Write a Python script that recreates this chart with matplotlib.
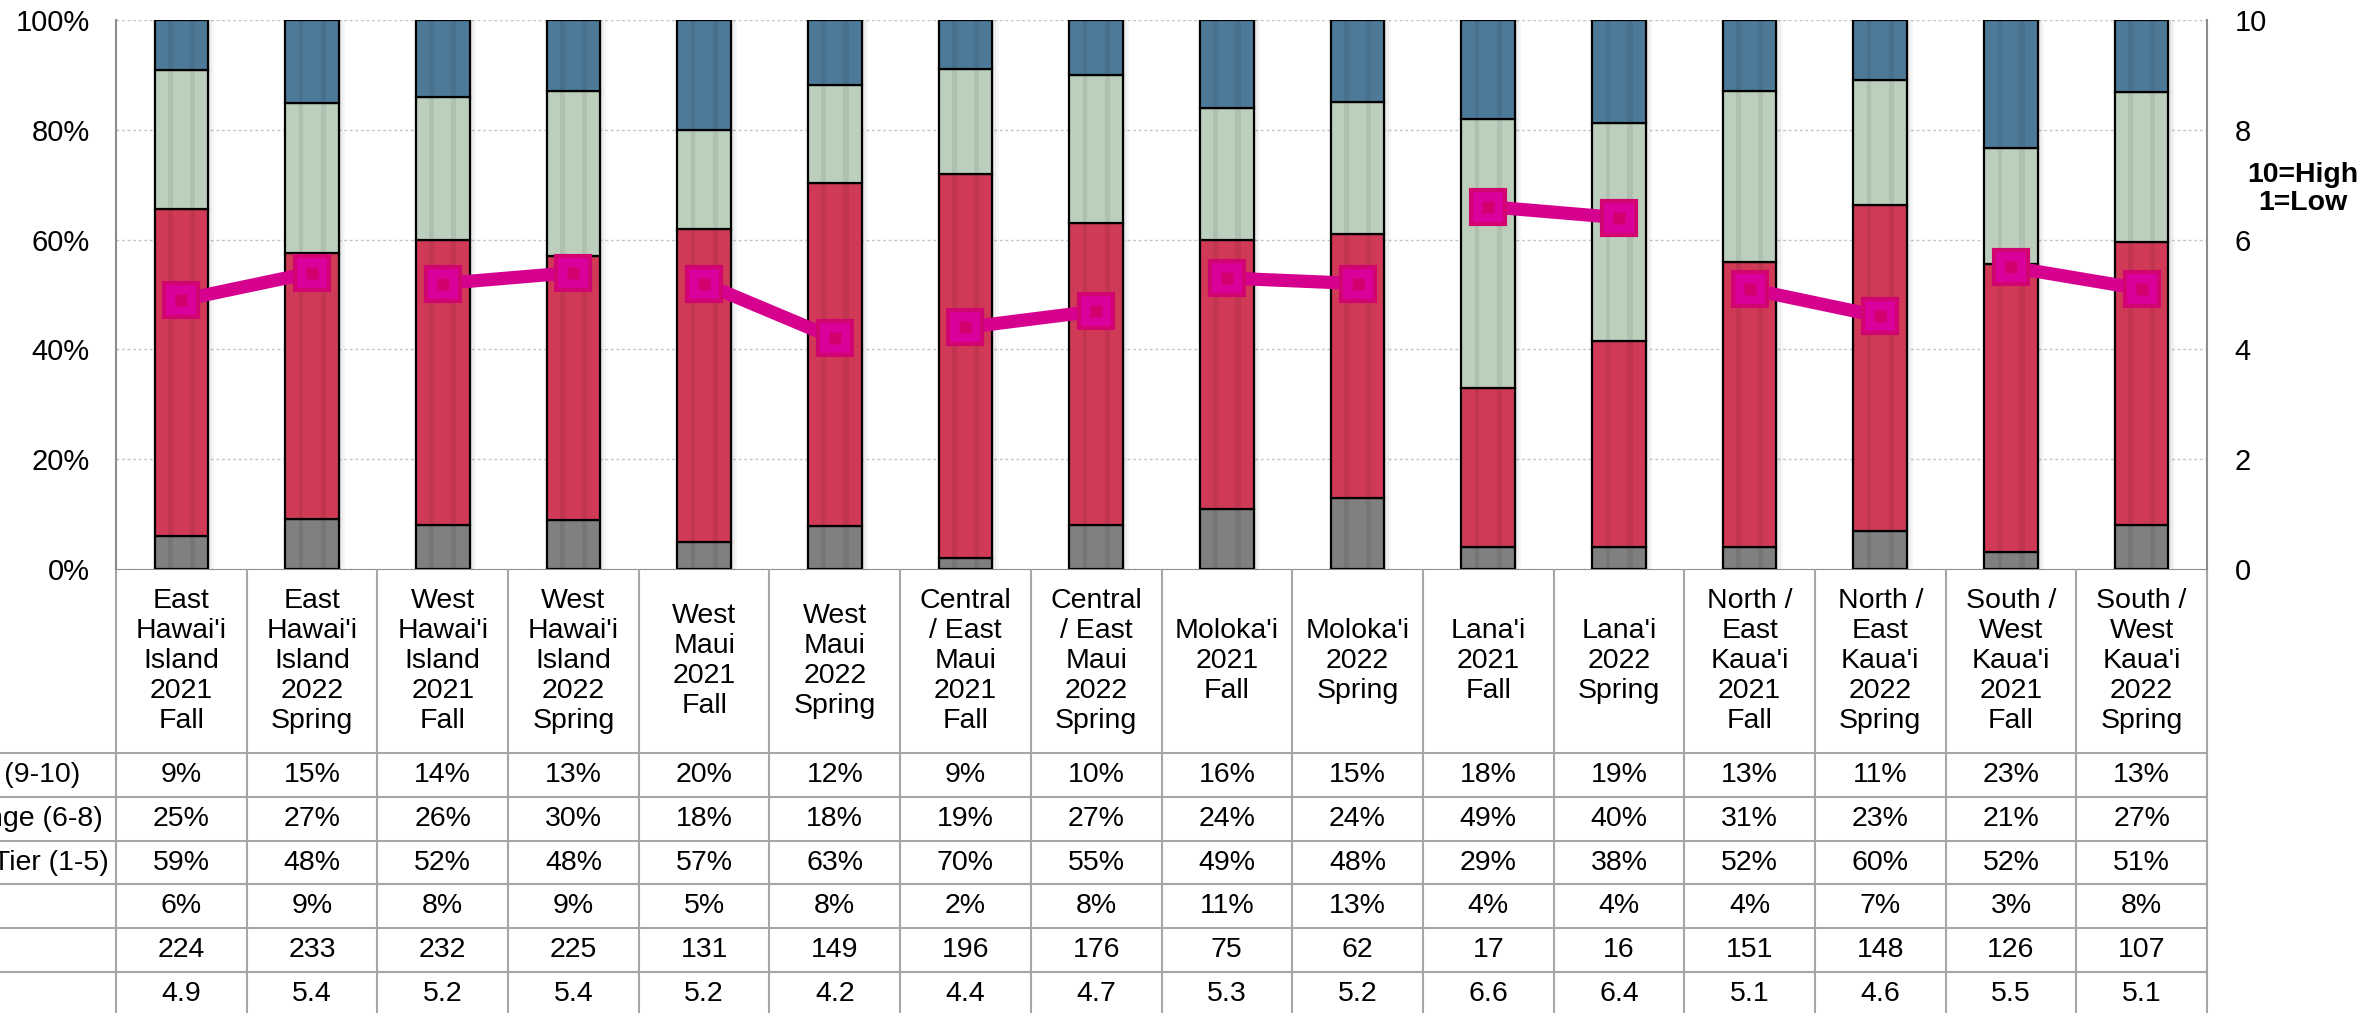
import matplotlib
matplotlib.use("Agg")
import matplotlib.pyplot as plt
import matplotlib.transforms as mtransforms
import numpy as np

plt.rcParams['font.family'] = ['Liberation Sans', 'DejaVu Sans']

# ---- data ----
columns = ["East\nHawai'i\nIsland\n2021\nFall", "East\nHawai'i\nIsland\n2022\nSpring",
           "West\nHawai'i\nIsland\n2021\nFall", "West\nHawai'i\nIsland\n2022\nSpring",
           "West\nMaui\n2021\nFall", "West\nMaui\n2022\nSpring",
           "Central\n/ East\nMaui\n2021\nFall", "Central\n/ East\nMaui\n2022\nSpring",
           "Moloka'i\n2021\nFall", "Moloka'i\n2022\nSpring",
           "Lana'i\n2021\nFall", "Lana'i\n2022\nSpring",
           "North /\nEast\nKaua'i\n2021\nFall", "North /\nEast\nKaua'i\n2022\nSpring",
           "South /\nWest\nKaua'i\n2021\nFall", "South /\nWest\nKaua'i\n2022\nSpring"]
top_tier = [9, 15, 14, 13, 20, 12, 9, 10, 16, 15, 18, 19, 13, 11, 23, 13]
mid_range = [25, 27, 26, 30, 18, 18, 19, 27, 24, 24, 49, 40, 31, 23, 21, 27]
bottom_tier = [59, 48, 52, 48, 57, 63, 70, 55, 49, 48, 29, 38, 52, 60, 52, 51]
unsure = [6, 9, 8, 9, 5, 8, 2, 8, 11, 13, 4, 4, 4, 7, 3, 8]
n_resp = [224, 233, 232, 225, 131, 149, 196, 176, 75, 62, 17, 16, 151, 148, 126, 107]
mean_score = [4.9, 5.4, 5.2, 5.4, 5.2, 4.2, 4.4, 4.7, 5.3, 5.2, 6.6, 6.4, 5.1, 4.6, 5.5, 5.1]
row_labels = ["Top Tier (9-10)", "Mid-Range (6-8)", "Bottom Tier (1-5)", "Unsure", "n", "Mean"]

c_blue = '#4E7A99'
c_green = '#BCCFBD'
c_red = '#D03A56'
c_gray = '#808080'
c_line = '#D6008F'
grid_c = '#8C8C8C'
fs = 20.5

W, H = 2361, 1013
fig = plt.figure(figsize=(W / 100, H / 100), dpi=100)

# plot area in pixels: x 116..2207, y 20..569 (from top)
ax = fig.add_axes([116 / W, (H - 569) / H, (2207 - 116) / W, (569 - 20) / H])
x = np.arange(len(columns))
bw = 0.41

# normalise stacks to 100%
stack = np.array([unsure, bottom_tier, mid_range, top_tier], dtype=float)
stack = stack / stack.sum(axis=0) * 100
colors = [c_gray, c_red, c_green, c_blue]

# soft shadow behind the bars
for k, a in enumerate([0.05, 0.04, 0.03]):
    ax.bar(x + 0.006 * (k + 1), 100, width=bw + 0.02 * (k + 1), color='k', alpha=a, lw=0, zorder=1)

bottom = np.zeros(len(x))
for vals, col in zip(stack, colors):
    ax.bar(x, vals, bottom=bottom, width=bw, color=col, edgecolor='black', linewidth=1.6, zorder=2)
    bottom += vals

# vertical stripes on the bars
for off, w in [(-0.085, 0.035), (0.085, 0.04)]:
    ax.bar(x + off, 99.6, bottom=0.2, width=w, color='k', alpha=0.07, lw=0, zorder=3)

ax.set_xlim(-0.5, len(columns) - 0.5)
ax.set_ylim(0, 100)
ax.set_yticks(np.arange(0, 101, 20))
ax.set_yticklabels([f"{v}%" for v in range(0, 101, 20)], fontsize=fs + 0.5)
ax.tick_params(axis='y', length=0, pad=19)
ax.set_xticks([])
ax.yaxis.grid(True, color='#C4C4C4', linestyle=(0, (2, 2)), linewidth=1)
ax.set_axisbelow(True)
for s in ['top', 'bottom']:
    ax.spines[s].set_visible(False)
for s in ['left', 'right']:
    ax.spines[s].set_color(grid_c)
    ax.spines[s].set_linewidth(1.5)

# mean score line on right axis, one segment per region
ax2 = ax.twinx()
ax2.set_ylim(0, 10)
ax2.set_yticks(range(0, 11, 2))
ax2.set_yticklabels([str(v) for v in range(0, 11, 2)], fontsize=fs + 0.5)
ax2.tick_params(axis='y', length=0, pad=20)
for s in ax2.spines.values():
    s.set_visible(False)
for i in range(0, len(x), 2):
    xs = x[i:i + 2]
    ys = mean_score[i:i + 2]
    ax2.plot(xs, ys, color=c_line, lw=9.5, solid_capstyle='butt', zorder=4)
    ax2.plot(xs, ys, ls='none', marker='s', ms=24, mfc='#D9009C', mec='#D0056F', mew=3, zorder=5)
    ax2.plot(xs, ys, ls='none', marker='s', ms=8, mfc='#D2006C', mec='none', zorder=6)

fig.text(2303 / W, 1 - 189 / H, "10=High\n1=Low", ha='center', va='center', fontsize=fs,
         fontweight='bold', linespacing=1.15)

# ---- data table below the plot ----
ov = fig.add_axes([0, 0, 1, 1], zorder=-1)
ov.set_xlim(0, W)
ov.set_ylim(H, 0)
ov.axis('off')
tr = mtransforms.blended_transform_factory(ax.transData, ov.transData)

table_top = 569
header_bot = 753
row_lines = [753, 797, 841, 884, 928, 972, 1016]
line_c = '#A6A6A6'

ov.plot([116, 2207], [table_top, table_top], color=grid_c, lw=1.5)
for y in row_lines[:-1]:
    ov.plot([0, 2207], [y, y], color=line_c, lw=1.5)
for b in np.arange(-0.5, len(columns), 1.0):
    ov.plot([b, b], [table_top, H], color=line_c, lw=1.5, transform=tr)

for i, lab in enumerate(columns):
    ov.text(i, (table_top + header_bot) / 2, lab, transform=tr, ha='center', va='center',
            fontsize=fs, linespacing=1.2)

rows = [[f"{v}%" for v in top_tier], [f"{v}%" for v in mid_range],
        [f"{v}%" for v in bottom_tier], [f"{v}%" for v in unsure],
        [str(v) for v in n_resp], [f"{v:.1f}" for v in mean_score]]
for r, (lab, vals) in enumerate(zip(row_labels, rows)):
    yc = (row_lines[r] + row_lines[r + 1]) / 2
    # row labels start left of the figure edge, so only their ends show
    ov.text(-105, yc, lab, ha='left', va='center', fontsize=fs)
    for i, v in enumerate(vals):
        ov.text(i, yc, v, transform=tr, ha='center', va='center', fontsize=fs)

fig.savefig("out.png", dpi=100)
